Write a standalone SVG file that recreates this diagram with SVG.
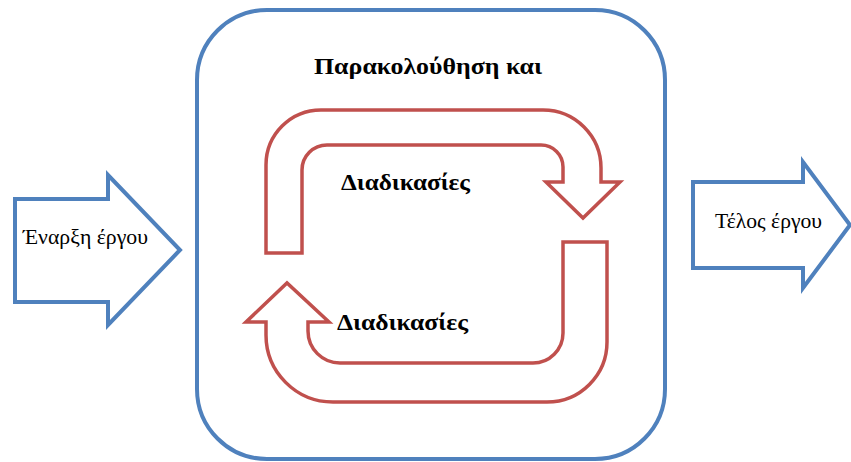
<svg xmlns="http://www.w3.org/2000/svg" width="851" height="462" viewBox="0 0 851 462">
  <style>
    .blue { fill: #ffffff; stroke: #4f81bd; stroke-width: 4; stroke-linejoin: miter; }
    .red { fill: #ffffff; stroke: #c0504d; stroke-width: 3.5; stroke-linejoin: miter; }
    .lbl { font-family: "Liberation Serif", "Times New Roman", serif; fill: #000000; }
    .bold { font-weight: bold; }
  </style>

  <!-- Container: monitoring stage -->
  <g id="monitoring">
    <rect class="blue" x="197" y="10" width="468" height="449" rx="70" ry="70"/>
    <text class="lbl bold" x="314" y="74" font-size="24" textLength="228" lengthAdjust="spacingAndGlyphs">Παρακολούθηση και</text>
  </g>

  <!-- Start arrow -->
  <g id="start">
    <polygon class="blue" points="15,199 108,199 108,175 180,250 108,325 108,302 15,302"/>
    <text class="lbl" x="23" y="244" font-size="20" textLength="125" lengthAdjust="spacingAndGlyphs">Έναρξη έργου</text>
  </g>

  <!-- End arrow -->
  <g id="end">
    <polygon class="blue" points="693,182 803,182 803,162 850,225 803,288 803,268 693,268"/>
    <text class="lbl" x="715" y="228" font-size="20" textLength="107" lengthAdjust="spacingAndGlyphs">Τέλος έργου</text>
  </g>

  <!-- Cycle connectors -->
  <g id="connectors">
    <path class="red" d="M 266,253 L 266,165 A 55,55 0 0 1 321,110 L 543,110 A 58,58 0 0 1 601,168 L 601,182 L 620,182 L 583,218 L 546,182 L 563,182 L 563,167 A 22,22 0 0 0 541,145 L 327,145 A 25,25 0 0 0 302,170 L 302,253 Z"/>
    <path class="red" d="M 607,242 L 607,342 A 60,60 0 0 1 547,402 L 333,402 A 67,67 0 0 1 266,335 L 266,322 L 246,322 L 287,283 L 329,322 L 308,322 L 308,331 A 32,32 0 0 0 340,363 L 533,363 A 30,30 0 0 0 563,333 L 563,242 Z"/>
  </g>

  <!-- Cycle labels -->
  <g id="process-top">
    <text class="lbl bold" x="341" y="190" font-size="23" textLength="129" lengthAdjust="spacingAndGlyphs">Διαδικασίες</text>
  </g>
  <g id="process-bottom">
    <text class="lbl bold" x="337" y="330" font-size="23" textLength="131" lengthAdjust="spacingAndGlyphs">Διαδικασίες</text>
  </g>
</svg>
